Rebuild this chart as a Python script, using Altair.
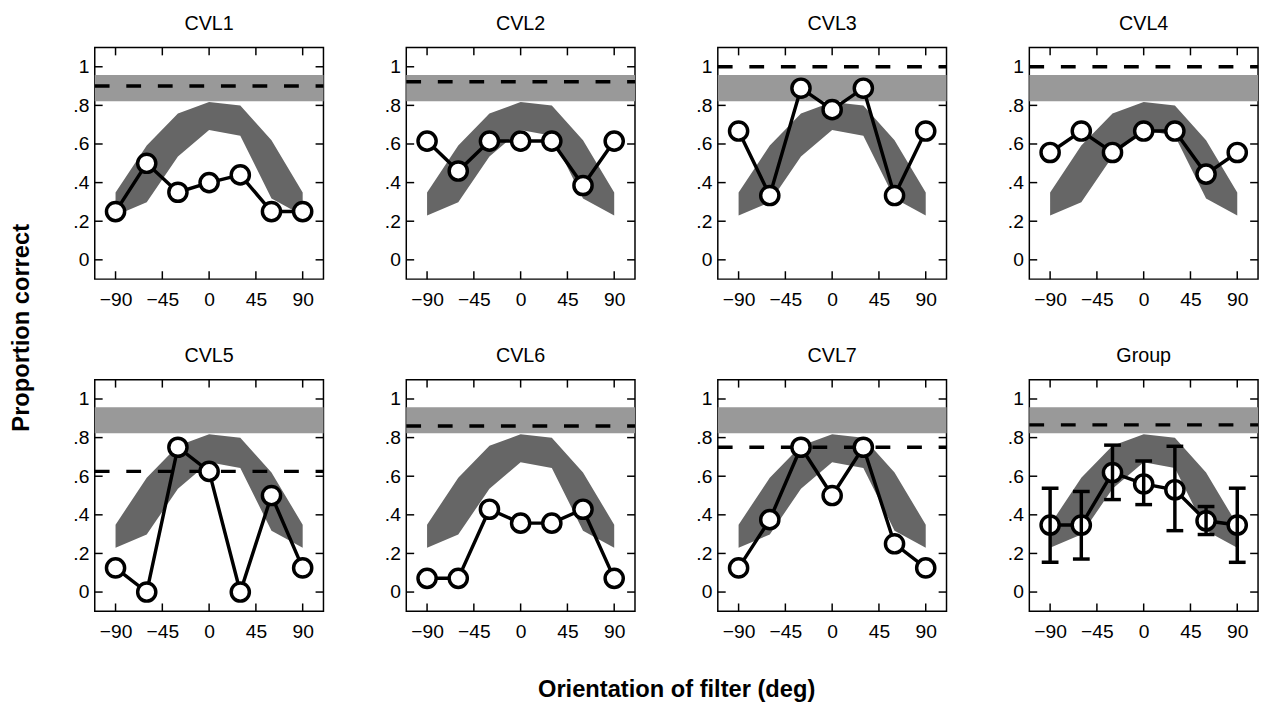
import altair as alt
import pandas as pd

# ---------------- data ----------------
panel_names = ["CVL1", "CVL2", "CVL3", "CVL4", "CVL5", "CVL6", "CVL7", "Group"]
orientations = [-90, -60, -30, 0, 30, 60, 90]

cvl1 = [0.25, 0.50, 0.35, 0.40, 0.44, 0.25, 0.25]
cvl2 = [0.615, 0.46, 0.615, 0.615, 0.615, 0.385, 0.615]
cvl3 = [0.667, 0.333, 0.889, 0.778, 0.889, 0.333, 0.667]
cvl4 = [0.556, 0.667, 0.556, 0.667, 0.667, 0.444, 0.556]
cvl5 = [0.125, 0.0, 0.75, 0.625, 0.0, 0.50, 0.125]
cvl6 = [0.071, 0.071, 0.429, 0.357, 0.357, 0.429, 0.071]
cvl7 = [0.125, 0.375, 0.75, 0.50, 0.75, 0.25, 0.125]
group = [0.347, 0.347, 0.619, 0.56, 0.53, 0.369, 0.347]
proportions = [cvl1, cvl2, cvl3, cvl4, cvl5, cvl6, cvl7, group]

group_err_low = [0.154, 0.171, 0.479, 0.453, 0.318, 0.298, 0.154]
group_err_high = [0.538, 0.521, 0.761, 0.679, 0.755, 0.443, 0.538]

dashed_levels = [0.90, 0.922, 1.0, 1.0, 0.625, 0.86, 0.75, 0.866]

band_low = 0.822
band_high = 0.957

model_upper = [0.349, 0.592, 0.758, 0.817, 0.799, 0.619, 0.349]
model_lower = [0.230, 0.298, 0.535, 0.673, 0.643, 0.318, 0.230]

x_ticks = [-90, -45, 0, 45, 90]
y_ticks = [0, 0.2, 0.4, 0.6, 0.8, 1.0]

# ---------------- style ----------------
W, H = 232, 235
FONT = "Liberation Sans"
TICK = 8
LABEL_SIZE = 19.5

xscale = alt.Scale(domain=[-110, 110], nice=False, zero=False)
yscale = alt.Scale(domain=[-0.1, 1.1], nice=False, zero=False)

xaxis = alt.Axis(values=x_ticks, ticks=False, domain=False, grid=False,
                 labelExpr="replace(toString(datum.value), '-', '\u2212')",
                 labelFontSize=LABEL_SIZE, labelPadding=12, labelColor="black",
                 labelFont=FONT, labelFlush=False, title=None)
yaxis = alt.Axis(values=y_ticks, ticks=False, domain=False, grid=False,
                 labelExpr="datum.value == 0 ? '0' : datum.value == 1 ? '1' : replace(format(datum.value, '.1f'), '0.', '.')",
                 labelFontSize=LABEL_SIZE, labelPadding=6, labelColor="black",
                 labelFont=FONT, labelFlush=False, title=None)


def xenc(field):
    return alt.X(f"{field}:Q", scale=xscale, axis=xaxis, title=None)


def yenc(field):
    return alt.Y(f"{field}:Q", scale=yscale, axis=yaxis, title=None)


def panel(i):
    name = panel_names[i]
    df = pd.DataFrame({"orientation": orientations, "proportion": proportions[i]})
    model_df = pd.DataFrame({"orientation": orientations,
                             "upper": model_upper, "lower": model_lower})
    band_df = pd.DataFrame({"lo": [band_low], "hi": [band_high]})
    dash_df = pd.DataFrame({"level": [dashed_levels[i]]})
    xt_df = pd.DataFrame({"tick": x_ticks})
    yt_df = pd.DataFrame({"ytick": y_ticks})

    band = alt.Chart(band_df).mark_rect(color="#999999").encode(
        x=alt.value(0), x2=alt.value(W), y=yenc("lo"), y2="hi:Q")
    area = alt.Chart(model_df).mark_area(color="#666666", opacity=1).encode(
        x=xenc("orientation"), y=yenc("upper"), y2="lower:Q")
    dash = alt.Chart(dash_df).mark_rule(color="black", strokeWidth=3.5,
                                        strokeDash=[15, 17]).encode(
        x=alt.value(0), x2=alt.value(W), y=yenc("level"))
    line = alt.Chart(df).mark_line(color="black", strokeWidth=3.5).encode(
        x=xenc("orientation"), y=yenc("proportion"))
    pts = alt.Chart(df).mark_point(shape="circle", filled=True, fill="white",
                                   stroke="black", strokeWidth=3.5, size=340,
                                   opacity=1).encode(
        x=xenc("orientation"), y=yenc("proportion"))

    tick_style = dict(color="black", strokeWidth=1.5)
    tb = alt.Chart(xt_df).mark_rule(**tick_style).encode(
        x=xenc("tick"), y=alt.value(H), y2=alt.value(H - TICK))
    tt = alt.Chart(xt_df).mark_rule(**tick_style).encode(
        x=xenc("tick"), y=alt.value(0), y2=alt.value(TICK))
    tl = alt.Chart(yt_df).mark_rule(**tick_style).encode(
        y=yenc("ytick"), x=alt.value(0), x2=alt.value(TICK))
    tr = alt.Chart(yt_df).mark_rule(**tick_style).encode(
        y=yenc("ytick"), x=alt.value(W), x2=alt.value(W - TICK))

    layers = [band, area, dash, line, pts]
    if name == "Group":
        err_df = pd.DataFrame({"orientation": orientations,
                               "low": group_err_low, "high": group_err_high})
        bars = alt.Chart(err_df).mark_rule(color="black", strokeWidth=3.5).encode(
            x=xenc("orientation"), y=yenc("low"), y2="high:Q")
        cap_lo = alt.Chart(err_df).mark_tick(color="black", thickness=3.5, size=17,
                                             orient="horizontal", opacity=1).encode(
            x=xenc("orientation"), y=yenc("low"))
        cap_hi = alt.Chart(err_df).mark_tick(color="black", thickness=3.5, size=17,
                                             orient="horizontal", opacity=1).encode(
            x=xenc("orientation"), y=yenc("high"))
        layers += [bars, cap_lo, cap_hi]
    layers += [tb, tt, tl, tr]

    return alt.layer(*layers).properties(
        width=W, height=H,
        title=alt.TitleParams(name, fontSize=20, font=FONT, fontWeight="normal",
                              color="black", offset=13, anchor="middle"))


row1 = alt.hconcat(*[panel(i) for i in range(4)], spacing=57)
row2 = alt.hconcat(*[panel(i) for i in range(4, 8)], spacing=57)

grid = alt.vconcat(row1, row2, spacing=35).properties(
    title=alt.TitleParams("Proportion correct", orient="left", anchor="middle",
                          fontSize=24, font=FONT, fontWeight="bold",
                          color="black", offset=39))

chart = alt.vconcat(grid).properties(
    title=alt.TitleParams("Orientation of filter (deg)", orient="bottom",
                          anchor="middle", fontSize=24, font=FONT,
                          fontWeight="bold", color="black", offset=37, dx=42),
    padding={"left": 1, "top": 0, "right": 0, "bottom": 0},
).configure(
    background="white",
    view=alt.ViewConfig(stroke="black", strokeWidth=1.5),
)

chart.save("out.html", embed_options={"renderer": "svg", "actions": False})
